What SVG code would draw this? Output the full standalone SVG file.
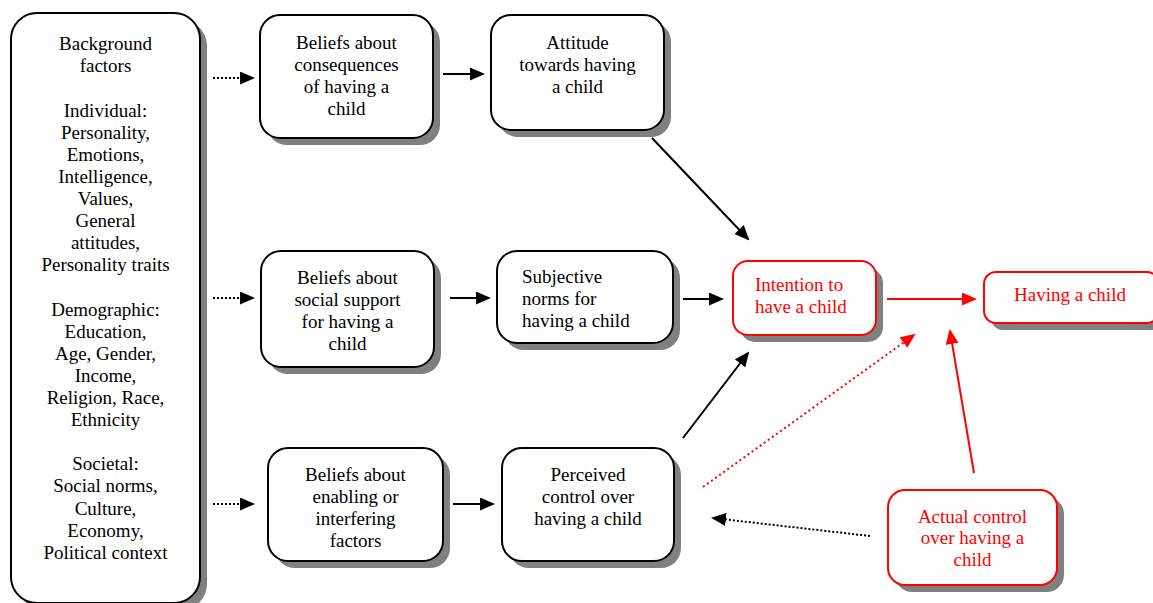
<svg xmlns="http://www.w3.org/2000/svg" width="1153" height="603" viewBox="0 0 1153 603">
<defs>
<style>
.box{fill:#fff;stroke:#000;stroke-width:2}
.rbox{fill:#fff;stroke:#ff0000;stroke-width:2}
.sh{fill:#808080;stroke:none}
text{font-family:"Liberation Serif","Times New Roman",serif;font-size:19px;fill:#000}
.c{text-anchor:middle}
.r{fill:#ff0000}
.ln{stroke:#000;stroke-width:2;fill:none}
.dl{stroke:#000;stroke-width:2;fill:none;stroke-dasharray:2 2}
.rl{stroke:#ff0000;stroke-width:2;fill:none}
.rdl{stroke:#ff0000;stroke-width:2;fill:none;stroke-dasharray:2 3}
</style>
<marker id="ah" markerUnits="userSpaceOnUse" markerWidth="15" markerHeight="13" refX="13" refY="6.5" orient="auto"><path d="M0,0 L15,6.5 L0,13 z" fill="#000"/></marker>
<marker id="rah" markerUnits="userSpaceOnUse" markerWidth="15" markerHeight="13" refX="13" refY="6.5" orient="auto"><path d="M0,0 L15,6.5 L0,13 z" fill="#ff0000"/></marker>
</defs>

<g id="background">
<rect class="sh" x="18" y="20" width="189" height="590" rx="26"/>
<rect class="box" x="11" y="13" width="189" height="590" rx="26"/>
<text class="c" x="105.5" y="50">Background</text>
<text class="c" x="105.5" y="72">factors</text>
<text class="c" x="105.5" y="116.5">Individual:</text>
<text class="c" x="105.5" y="138.6">Personality,</text>
<text class="c" x="105.5" y="160.7">Emotions,</text>
<text class="c" x="105.5" y="182.8">Intelligence,</text>
<text class="c" x="105.5" y="204.9">Values,</text>
<text class="c" x="105.5" y="227">General</text>
<text class="c" x="105.5" y="249.1">attitudes,</text>
<text class="c" x="105.5" y="271.2">Personality traits</text>
<text class="c" x="105.5" y="315.5">Demographic:</text>
<text class="c" x="105.5" y="337.6">Education,</text>
<text class="c" x="105.5" y="359.7">Age, Gender,</text>
<text class="c" x="105.5" y="381.8">Income,</text>
<text class="c" x="105.5" y="403.9">Religion, Race,</text>
<text class="c" x="105.5" y="426">Ethnicity</text>
<text class="c" x="105.5" y="470.3">Societal:</text>
<text class="c" x="105.5" y="492.4">Social norms,</text>
<text class="c" x="105.5" y="514.5">Culture,</text>
<text class="c" x="105.5" y="536.6">Economy,</text>
<text class="c" x="105.5" y="558.7">Political context</text>
</g>

<g id="beliefs-consequences">
<rect class="sh" x="267" y="22" width="173" height="123" rx="20"/>
<rect class="box" x="260" y="15" width="173" height="123" rx="20"/>
<text class="c" x="346.5" y="49">Beliefs about</text>
<text class="c" x="346.5" y="71">consequences</text>
<text class="c" x="346.5" y="93">of having a</text>
<text class="c" x="346.5" y="115">child</text>
</g>

<g id="attitude">
<rect class="sh" x="498" y="22" width="173" height="115" rx="20"/>
<rect class="box" x="491" y="15" width="173" height="115" rx="20"/>
<text class="c" x="577.5" y="49">Attitude</text>
<text class="c" x="577.5" y="71">towards having</text>
<text class="c" x="577.5" y="93">a child</text>
</g>

<g id="beliefs-social">
<rect class="sh" x="268" y="258" width="173" height="116" rx="20"/>
<rect class="box" x="261" y="251" width="173" height="116" rx="20"/>
<text class="c" x="347.5" y="284">Beliefs about</text>
<text class="c" x="347.5" y="306">social support</text>
<text class="c" x="347.5" y="328">for having a</text>
<text class="c" x="347.5" y="350">child</text>
</g>

<g id="subjective-norms">
<rect class="sh" x="504" y="258" width="176" height="92" rx="20"/>
<rect class="box" x="497" y="251" width="176" height="92" rx="20"/>
<text x="522" y="283">Subjective</text>
<text x="522" y="305">norms for</text>
<text x="522" y="327">having a child</text>
</g>

<g id="beliefs-enabling">
<rect class="sh" x="275" y="455" width="175" height="113" rx="20"/>
<rect class="box" x="268" y="448" width="175" height="113" rx="20"/>
<text class="c" x="355.5" y="481">Beliefs about</text>
<text class="c" x="355.5" y="503">enabling or</text>
<text class="c" x="355.5" y="525">interfering</text>
<text class="c" x="355.5" y="547">factors</text>
</g>

<g id="perceived-control">
<rect class="sh" x="509" y="455" width="172" height="113" rx="20"/>
<rect class="box" x="502" y="448" width="172" height="113" rx="20"/>
<text class="c" x="588" y="481">Perceived</text>
<text class="c" x="588" y="503">control over</text>
<text class="c" x="588" y="525">having a child</text>
</g>

<g id="intention">
<rect class="sh" x="740" y="268" width="143" height="74" rx="15"/>
<rect class="rbox" x="733" y="261" width="143" height="74" rx="15"/>
<text class="r" x="755" y="291">Intention to</text>
<text class="r" x="755" y="313">have a child</text>
</g>

<g id="having-child">
<rect class="sh" x="991" y="279" width="175" height="51" rx="12"/>
<rect class="rbox" x="984" y="272" width="175" height="51" rx="12"/>
<text class="c r" x="1070" y="301">Having a child</text>
</g>

<g id="actual-control">
<rect class="sh" x="895" y="497" width="169" height="95" rx="17"/>
<rect class="rbox" x="888" y="490" width="169" height="95" rx="17"/>
<text class="c r" x="972.5" y="523">Actual control</text>
<text class="c r" x="972.5" y="544">over having a</text>
<text class="c r" x="972.5" y="566">child</text>
</g>

<g id="connectors">
<line class="dl" x1="213" y1="78" x2="253" y2="78" marker-end="url(#ah)"/>
<line class="dl" x1="213" y1="298" x2="253" y2="298" marker-end="url(#ah)"/>
<line class="dl" x1="213" y1="504" x2="253" y2="504" marker-end="url(#ah)"/>
<line class="ln" x1="443" y1="74" x2="483" y2="74" marker-end="url(#ah)"/>
<line class="ln" x1="450" y1="298" x2="489" y2="298" marker-end="url(#ah)"/>
<line class="ln" x1="453" y1="504" x2="493" y2="504" marker-end="url(#ah)"/>
<line class="ln" x1="652" y1="138" x2="748" y2="239" marker-end="url(#ah)"/>
<line class="ln" x1="683" y1="299" x2="722" y2="299" marker-end="url(#ah)"/>
<line class="ln" x1="683" y1="438" x2="748" y2="353" marker-end="url(#ah)"/>
<line class="rl" x1="887" y1="299" x2="975" y2="299" marker-end="url(#rah)"/>
<line class="rdl" x1="703" y1="487" x2="914" y2="335" marker-end="url(#rah)"/>
<line class="rl" x1="974" y1="473" x2="950" y2="331" marker-end="url(#rah)"/>
<line class="dl" x1="870" y1="536" x2="713" y2="518" marker-end="url(#ah)"/>
</g>
</svg>
